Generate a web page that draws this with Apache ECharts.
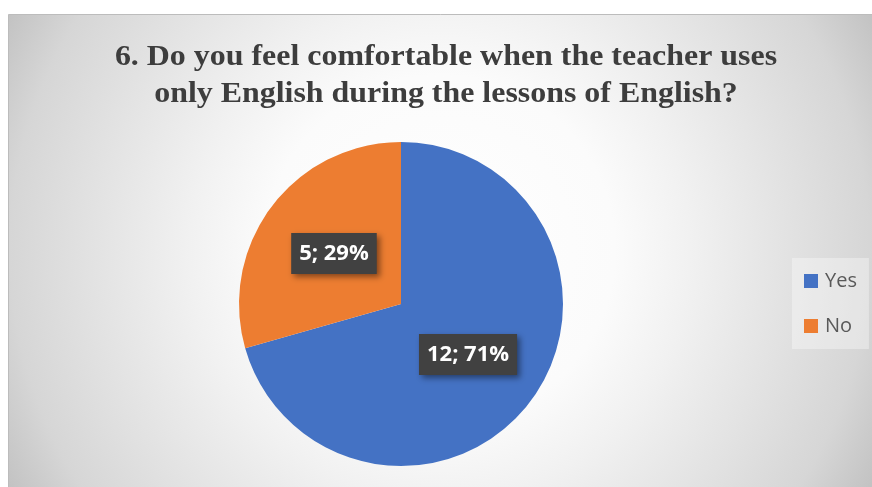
<!DOCTYPE html>
<html>
<head>
<meta charset="utf-8">
<script src="https://cdn.jsdelivr.net/npm/echarts@6/dist/echarts.min.js"></script>
<style>
  html, body { margin: 0; padding: 0; background: #fff; }
  #chart { width: 872px; height: 487px; }
</style>
</head>
<body>
<div id="chart"></div>
<script>
  const answers = ['Yes', 'No'];
  const counts = [12, 5];
  const sliceColors = ['#4472c4', '#ed7d31'];
  const titleText = '6. Do you feel comfortable when the teacher uses\nonly English during the lessons of English?';

  const myChart = echarts.init(document.getElementById('chart'));
  const total = counts.reduce((s, v) => s + v, 0);

  const option = {
    animation: false,
    graphic: [{
      type: 'rect',
      z: -10,
      shape: { x: 8.5, y: 14.5, width: 870, height: 480 },
      style: {
        // office-like radial fill, white in the middle, grey at the corners
        fill: new echarts.graphic.RadialGradient(440, 250, 500, [
          { offset: 0, color: '#ffffff' },
          { offset: 0.35, color: '#fbfbfb' },
          { offset: 0.5, color: '#f1f1f1' },
          { offset: 0.86, color: '#d6d6d6' },
          { offset: 1, color: '#c0c0c0' }
        ], true),
        stroke: '#bcbcbc',
        lineWidth: 1
      }
    }, {
      type: 'text',
      x: 446,
      y: 39,
      scaleX: 1.12,
      style: {
        text: titleText,
        align: 'center',
        verticalAlign: 'top',
        font: 'bold 28.5px "Liberation Serif"',
        lineHeight: 37,
        fill: '#3d3d3d'
      }
    }],
    legend: {
      orient: 'vertical',
      left: 792,
      top: 258,
      padding: [13, 12, 13, 12],
      itemWidth: 14,
      itemHeight: 14,
      itemGap: 25,
      backgroundColor: 'rgba(255,255,255,0.35)',
      icon: 'rect',
      data: answers,
      textStyle: {
        fontFamily: 'Open Sans',
        fontSize: 20,
        lineHeight: 20,
        color: '#595959',
        padding: [0, 0, 0, 2]
      }
    },
    series: [{
      name: 'Answer',
      type: 'pie',
      center: [401, 304],
      radius: [0, 162],
      startAngle: 90,
      clockwise: true,
      label: {
        show: true,
        position: 'inside',
        formatter: (p) => p.value + '; ' + Math.round(p.value / total * 100) + '%',
        fontFamily: 'Open Sans',
        fontWeight: 'bold',
        fontSize: 22,
        lineHeight: 26,
        color: '#ffffff',
        backgroundColor: '#414141',
        padding: [8, 8, 7, 8],
        shadowBlur: 6,
        shadowOffsetX: 3,
        shadowOffsetY: 3,
        shadowColor: 'rgba(0,0,0,0.45)'
      },
      labelLine: { show: false },
      itemStyle: { borderWidth: 0 },
      data: answers.map((name, i) => ({
        name,
        value: counts[i],
        itemStyle: { color: sliceColors[i] }
      }))
    }]
  };

  myChart.setOption(option);
</script>
</body>
</html>
